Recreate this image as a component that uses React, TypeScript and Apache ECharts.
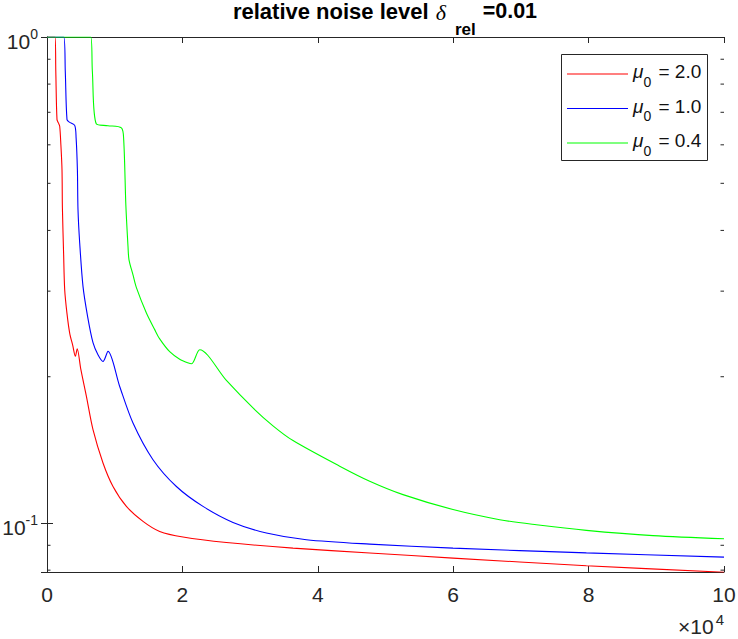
import React, { useEffect, useRef } from 'react';
import * as echarts from 'echarts';

// ---------- data ----------
const xMin = 0;
const xMax = 100000;
const xInterval = 20000;
const yMin = 0.0793;
const yMax = 1;
const minorTicks = [0.08, 0.09, 0.2, 0.3, 0.4, 0.5, 0.6, 0.7, 0.8, 0.9];

const legendValues = ['2.0', '1.0', '0.4'];
const seriesNames = ['μ0 = 2.0', 'μ0 = 1.0', 'μ0 = 0.4'];
const seriesColors = ['#ff0000', '#0000ff', '#00ff00'];

const redX = [0, 1180, 1300, 1477, 1700, 1876, 2050, 2216, 2275, 2450, 2614, 2950, 3350, 3800, 4195, 4461, 5000, 5820, 6795, 8272, 9749, 11728, 14180, 16647, 20089, 26500, 36337, 47666, 59970, 79675, 100000];
const redY = [1, 1, 0.85, 0.676, 0.665, 0.655, 0.6, 0.533, 0.4455, 0.36, 0.302, 0.27, 0.246, 0.232, 0.2203, 0.2284, 0.207, 0.1822, 0.1556, 0.1329, 0.1189, 0.1082, 0.1008, 0.0961, 0.0936, 0.0912, 0.0888, 0.0868, 0.0847, 0.0817, 0.0792];

const blueX = [0, 2470, 2700, 2954, 3300, 4091, 4300, 4490, 4579, 4830, 5318, 6000, 6795, 7530, 8272, 9010, 10738, 12703, 15657, 19113, 23043, 27474, 32408, 38316, 47666, 59970, 79675, 100000];
const blueY = [1, 1, 0.85, 0.676, 0.668, 0.658, 0.62, 0.533, 0.441, 0.377, 0.3068, 0.266, 0.235, 0.222, 0.215, 0.2255, 0.191, 0.1606, 0.135, 0.1189, 0.1082, 0.1003, 0.0954, 0.0924, 0.0905, 0.0888, 0.0868, 0.0851];

const greenX = [0, 6455, 6700, 7297, 9000, 10990, 11329, 11650, 11964, 12112, 12703, 13205, 14682, 15908, 16647, 18124, 19601, 20781, 21374, 22556, 26500, 30428, 33380, 36337, 43235, 47666, 52586, 59970, 66868, 72288, 79675, 89513, 100000];
const greenY = [1, 1, 0.85, 0.662, 0.657, 0.65, 0.615, 0.45, 0.371, 0.348, 0.324, 0.305, 0.2704, 0.25, 0.2393, 0.2252, 0.2173, 0.2137, 0.2127, 0.2273, 0.1965, 0.1725, 0.1585, 0.1478, 0.1309, 0.1219, 0.1144, 0.1066, 0.1016, 0.0992, 0.0966, 0.0942, 0.0928];

const seriesX = [redX, blueX, greenX];
const seriesY = [redY, blueY, greenY];

// ---------- style ----------
const axisColor = '#262626';
const sans = "'Liberation Sans', Arial, Helvetica, sans-serif";
const serif = "'Liberation Serif', 'Times New Roman', serif";

// power-of-ten label: line height 26, base digits lowered, exponent raised
const powRich = {
  b: { fontSize: 21, lineHeight: 26, verticalAlign: 'middle', padding: [8.7, 0, 0, 0], color: axisColor, fontFamily: sans },
  s: { fontSize: 14, lineHeight: 14, verticalAlign: 'top', padding: [2.5, 0, 0, 0], color: axisColor, fontFamily: sans },
};

// legend box layout
const legendBox = { x: 561, y: 54, w: 146, h: 106 };
const legendRowY = [74, 108.5, 143];
const legendLineX = [567, 628];
const legendTextX = 633;

function isPow10(v: number) {
  const l = Math.log10(v);
  return Math.abs(l - Math.round(l)) < 1e-6;
}

export default function App() {
  const ref = useRef<HTMLDivElement>(null);
  useEffect(() => {
    if (!ref.current) return;
    const chart = echarts.init(ref.current, null, { renderer: 'svg' });

    const lineSeries = seriesNames.map((name, i) => ({
      name,
      type: 'line',
      data: seriesX[i].map((x, j) => [x, seriesY[i][j]]),
      showSymbol: false,
      symbol: 'none',
      smooth: 0.3,
      color: seriesColors[i],
      itemStyle: { color: seriesColors[i] },
      lineStyle: { color: seriesColors[i], width: 1.1 },
      clip: true,
      z: 2,
    }));

    const xAxisBase = {
      type: 'value',
      min: xMin,
      max: xMax,
      interval: xInterval,
      splitLine: { show: false },
      axisLine: { show: true, lineStyle: { color: axisColor, width: 1 } },
      axisTick: { show: true, inside: true, length: 6, lineStyle: { color: axisColor, width: 1 } },
    };
    const yAxisBase = {
      type: 'log',
      logBase: 10,
      min: yMin,
      max: yMax,
      splitLine: { show: false },
      axisLine: { show: true, lineStyle: { color: axisColor, width: 1 } },
      axisTick: { show: true, inside: true, length: 6, lineStyle: { color: axisColor, width: 1 } },
    };

    const legendTextRich = {
      m: { fontSize: 19, fontStyle: 'italic', lineHeight: 24, verticalAlign: 'middle', padding: [0, 0, 4.6, 0], fill: '#111', fontFamily: sans },
      z: { fontSize: 14, lineHeight: 14, verticalAlign: 'top', padding: [12.7, 2, 0, 0], fill: '#111', fontFamily: sans },
      t: { fontSize: 19, lineHeight: 24, verticalAlign: 'middle', padding: [0, 0, 4.6, 0], fill: '#111', fontFamily: sans },
    };

    const legendGraphics: any[] = [
      {
        type: 'rect',
        z: 20,
        shape: { x: legendBox.x + 0.5, y: legendBox.y + 0.5, width: legendBox.w, height: legendBox.h },
        style: { fill: '#ffffff', stroke: axisColor, lineWidth: 1 },
      },
    ];
    seriesNames.forEach((_, i) => {
      legendGraphics.push({
        type: 'line',
        z: 21,
        shape: { x1: legendLineX[0], y1: legendRowY[i], x2: legendLineX[1], y2: legendRowY[i] },
        style: { stroke: seriesColors[i], lineWidth: 1.1 },
      });
      legendGraphics.push({
        type: 'text',
        z: 21,
        x: legendTextX,
        y: legendRowY[i],
        style: {
          text: `{m|μ}{z|0}{t| = ${legendValues[i]}}`,
          align: 'left',
          verticalAlign: 'middle',
          rich: legendTextRich,
        },
      });
    });

    const option: any = {
      animation: false,
      backgroundColor: '#ffffff',
      grid: { left: 47, right: 14, top: 37, bottom: 67, outerBoundsMode: 'none', containLabel: false },
      title: {
        left: 385,
        top: 0,
        padding: 0,
        textAlign: 'center',
        text: '{b|relative noise level }{d|δ}{s|rel}{e| =0.01}',
        textStyle: {
          rich: {
            b: { fontSize: 22, fontWeight: 'bold', lineHeight: 22, verticalAlign: 'top', color: '#000', fontFamily: sans },
            d: { fontSize: 22, fontStyle: 'italic', fontWeight: 'normal', lineHeight: 22, padding: [1.2, 9, 0, 1], verticalAlign: 'top', color: '#000', fontFamily: serif },
            s: { fontSize: 17, fontWeight: 'bold', lineHeight: 17, padding: [20.5, 1, 0, 0], verticalAlign: 'top', color: '#000', fontFamily: sans },
            e: { fontSize: 21.5, fontWeight: 'bold', lineHeight: 22, verticalAlign: 'top', color: '#000', fontFamily: sans },
          },
        },
      },
      legend: { show: false },
      xAxis: [
        {
          ...xAxisBase,
          position: 'bottom',
          axisLabel: {
            show: true,
            interval: 0,
            margin: 12,
            color: axisColor,
            fontSize: 21,
            fontFamily: sans,
            formatter: (v: number) => String(v / 10000),
          },
        },
        {
          ...xAxisBase,
          position: 'top',
          axisLabel: { show: false },
        },
      ],
      yAxis: [
        {
          ...yAxisBase,
          position: 'left',
          axisLabel: {
            show: true,
            interval: 0,
            margin: 9,
            formatter: (v: number) => {
              if (!isPow10(v)) return '';
              return `{b|10}{s|${Math.round(Math.log10(v))}}`;
            },
            rich: powRich,
          },
        },
        {
          ...yAxisBase,
          position: 'right',
          axisLabel: { show: false },
        },
      ],
      graphic: [
        {
          type: 'text',
          x: 724,
          y: 609.5,
          z: 10,
          style: {
            text: '{b|×10}{s|4}',
            align: 'right',
            verticalAlign: 'top',
            rich: {
              b: { fontSize: 21, lineHeight: 26, verticalAlign: 'middle', padding: [8.7, 0, 0, 0], fill: axisColor, fontFamily: sans },
              s: { fontSize: 15, lineHeight: 15, verticalAlign: 'top', padding: [2.4, 0, 0, 2], fill: axisColor, fontFamily: sans },
            },
          },
        },
        ...legendGraphics,
      ],
      series: [
        ...lineSeries,
        {
          type: 'custom',
          name: 'minorTicks',
          coordinateSystem: 'cartesian2d',
          xAxisIndex: 0,
          yAxisIndex: 0,
          silent: true,
          z: 3,
          data: minorTicks.map((v) => [xMin, v]),
          renderItem: (params: any, api: any) => {
            const v = api.value(1);
            const l = api.coord([xMin, v]);
            const r = api.coord([xMax, v]);
            const st = { stroke: axisColor, lineWidth: 1 };
            return {
              type: 'group',
              children: [
                { type: 'line', shape: { x1: l[0], y1: l[1], x2: l[0] + 3.5, y2: l[1] }, style: st },
                { type: 'line', shape: { x1: r[0] - 3.5, y1: r[1], x2: r[0], y2: r[1] }, style: st },
              ],
            };
          },
        },
      ],
    };

    chart.setOption(option);
    return () => chart.dispose();
  }, []);

  return (
    <div
      ref={ref}
      style={{ position: 'fixed', left: 0, top: 0, width: 738, height: 639, background: '#fff' }}
    />
  );
}
